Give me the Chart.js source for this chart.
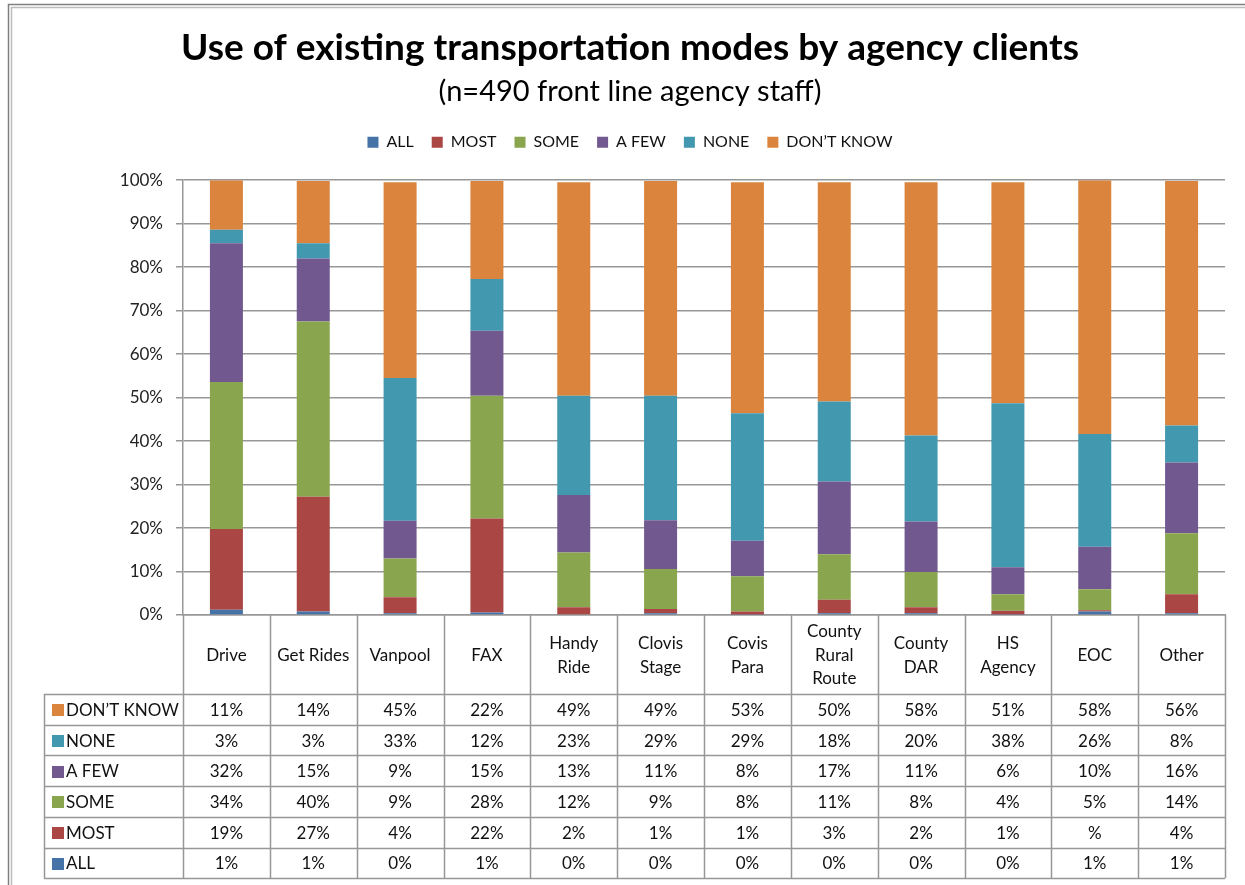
<!DOCTYPE html>
<html>
<head>
<meta charset="utf-8">
<script src="https://cdn.jsdelivr.net/npm/chart.js@4.4.1/dist/chart.umd.min.js"></script>
<style>
  html, body { margin: 0; padding: 0; background: #fff; }
  #wrap { width: 1245px; height: 885px; }
</style>
</head>
<body>
<div id="wrap"><canvas id="graficoModos" width="1245" height="885"></canvas></div>
<script>
// --- DATOS ---
const categories = [
  ["Drive"], ["Get Rides"], ["Vanpool"], ["FAX"], ["Handy", "Ride"], ["Clovis", "Stage"],
  ["Covis", "Para"], ["County", "Rural", "Route"], ["County", "DAR"], ["HS", "Agency"], ["EOC"], ["Other"]
];
const seriesNames = ["ALL", "MOST", "SOME", "A FEW", "NONE", "DON’T KNOW"];

// values (%)
const allValues      = [1.2, 0.8, 0.4, 0.6, 0.2, 0.4, 0.1, 0.4, 0.4, 0.1, 0.8, 0.4];
const mostValues     = [18.6, 26.4, 3.7, 21.6, 1.6, 1.0, 0.7, 3.1, 1.4, 0.9, 0.3, 4.4];
const someValues     = [33.8, 40.3, 8.9, 28.2, 12.6, 9.2, 8.1, 10.5, 8.1, 3.8, 4.8, 14.0];
const aFewValues     = [31.9, 14.5, 8.7, 15.0, 13.2, 11.2, 8.2, 16.7, 11.6, 6.2, 9.8, 16.3];
const noneValues     = [3.1, 3.5, 32.8, 11.9, 22.8, 28.6, 29.3, 18.4, 19.8, 37.7, 25.9, 8.5];
const dontKnowValues = [11.4, 14.3, 45.0, 22.5, 49.1, 49.4, 53.1, 50.4, 58.2, 50.8, 58.4, 56.2];

// texts printed in the data table
const allText      = ["1%", "1%", "0%", "1%", "0%", "0%", "0%", "0%", "0%", "0%", "1%", "1%"];
const mostText     = ["19%", "27%", "4%", "22%", "2%", "1%", "1%", "3%", "2%", "1%", "%", "4%"];
const someText     = ["34%", "40%", "9%", "28%", "12%", "9%", "8%", "11%", "8%", "4%", "5%", "14%"];
const aFewText     = ["32%", "15%", "9%", "15%", "13%", "11%", "8%", "17%", "11%", "6%", "10%", "16%"];
const noneText     = ["3%", "3%", "33%", "12%", "23%", "29%", "29%", "18%", "20%", "38%", "26%", "8%"];
const dontKnowText = ["11%", "14%", "45%", "22%", "49%", "49%", "53%", "50%", "58%", "51%", "58%", "56%"];

const yTicks = [0, 10, 20, 30, 40, 50, 60, 70, 80, 90, 100];

// --- ESTILO ---
const colores = ["#4572A7", "#AA4643", "#89A54E", "#71588F", "#4198AF", "#DB843D"];
const fuente = "Lato, 'Liberation Sans', sans-serif";
const colorLinea = "#979797";
const colorTexto = "#111";

Chart.defaults.font.family = fuente;
Chart.defaults.color = colorTexto;

const valores = [allValues, mostValues, someValues, aFewValues, noneValues, dontKnowValues];
const textos = [allText, mostText, someText, aFewText, noneText, dontKnowText];

const datasets = seriesNames.map((nombre, i) => ({
  label: nombre,
  data: valores[i],
  backgroundColor: colores[i],
  borderWidth: 0,
  barPercentage: 0.38,
  categoryPercentage: 1,
}));

// marco doble alrededor del gráfico
const marcoPlugin = {
  id: "marco",
  beforeDraw(chart) {
    const ctx = chart.ctx;
    ctx.save();
    ctx.fillStyle = "#fff";
    ctx.fillRect(0, 0, chart.width, chart.height);
    ctx.lineWidth = 1.5;
    ctx.strokeStyle = "#7f7f7f";
    ctx.strokeRect(8.5, 4.5, chart.width + 20, chart.height + 20);
    ctx.strokeStyle = "#bdbdbd";
    ctx.strokeRect(11.5, 7.5, chart.width + 20, chart.height + 20);
    ctx.restore();
  },
};

// espacio extra bajo la leyenda
const leyendaPlugin = {
  id: "leyendaEspacio",
  afterInit(chart) {
    const fit = chart.legend.fit;
    chart.legend.fit = function () {
      fit.call(this);
      this.height += 20;
    };
  },
};

// tabla de datos bajo el eje x
const tablaPlugin = {
  id: "tabla",
  afterDraw(chart) {
    const { ctx, chartArea } = chart;
    const x = chart.scales.x;
    const n = categories.length;
    const colW = (chartArea.right - chartArea.left) / n;
    const top = chartArea.bottom;
    const headerBottom = top + 79;
    const rowH = 30.7;
    const labelLeft = 44;
    const tableBottom = headerBottom + rowH * seriesNames.length;

    ctx.save();
    ctx.strokeStyle = colorLinea;
    ctx.lineWidth = 1.5;

    // lineas verticales
    for (let i = 0; i <= n; i++) {
      const xp = Math.round(chartArea.left + i * colW) + 0.5;
      ctx.beginPath();
      ctx.moveTo(xp, top);
      ctx.lineTo(xp, tableBottom);
      ctx.stroke();
    }
    ctx.beginPath();
    ctx.moveTo(labelLeft + 0.5, headerBottom);
    ctx.lineTo(labelLeft + 0.5, tableBottom);
    ctx.stroke();

    // lineas horizontales
    for (let r = 0; r <= seriesNames.length; r++) {
      const yp = Math.round(headerBottom + r * rowH) + 0.5;
      ctx.beginPath();
      ctx.moveTo(labelLeft, yp);
      ctx.lineTo(chartArea.right, yp);
      ctx.stroke();
    }

    ctx.fillStyle = colorTexto;
    ctx.font = "17px " + fuente;
    ctx.textAlign = "center";
    ctx.textBaseline = "middle";

    // cabecera con las categorias
    const lineH = 23.5;
    categories.forEach((lineas, i) => {
      const cx = x.getPixelForValue(i);
      const cy = (top + headerBottom) / 2 + 1;
      lineas.forEach((t, k) => {
        ctx.fillText(t, cx, cy + (k - (lineas.length - 1) / 2) * lineH);
      });
    });

    // filas: de DON'T KNOW a ALL
    for (let r = 0; r < seriesNames.length; r++) {
      const s = seriesNames.length - 1 - r;
      const cy = headerBottom + r * rowH + rowH / 2 + 1;
      ctx.fillStyle = colores[s];
      ctx.fillRect(52, Math.round(cy - 6), 12, 12);
      ctx.fillStyle = colorTexto;
      ctx.textAlign = "left";
      ctx.fillText(seriesNames[s], 66, cy);
      ctx.textAlign = "center";
      textos[s].forEach((t, i) => {
        ctx.fillText(t, x.getPixelForValue(i), cy);
      });
    }
    ctx.restore();
  },
};

const ctx = document.getElementById("graficoModos").getContext("2d");
const graficoModos = new Chart(ctx, {
  type: "bar",
  data: {
    labels: categories,
    datasets: datasets,
  },
  options: {
    responsive: false,
    animation: false,
    layout: { padding: { left: 35, right: 20, top: 0, bottom: 0 } },
    plugins: {
      title: {
        display: true,
        text: "Use of existing transportation modes by agency clients",
        font: { size: 37, weight: "bold" },
        color: "#000",
        padding: { top: 26, bottom: 0 },
      },
      subtitle: {
        display: true,
        text: "(n=490 front line agency staff)",
        font: { size: 29, weight: "normal" },
        color: "#000",
        padding: { top: 4, bottom: 7 },
      },
      legend: {
        display: true,
        position: "top",
        labels: {
          boxWidth: 11,
          boxHeight: 11,
          padding: 18,
          font: { size: 16 },
          color: colorTexto,
        },
      },
      tooltip: { enabled: false },
    },
    scales: {
      x: {
        stacked: true,
        grid: { display: false },
        border: { display: true, color: colorLinea, width: 1.5 },
        ticks: { display: false },
        afterFit: (scale) => { scale.height = 270; },
      },
      y: {
        stacked: true,
        min: 0,
        max: 100,
        afterBuildTicks: (scale) => { scale.ticks = yTicks.map((v) => ({ value: v })); },
        ticks: {
          padding: 13,
          font: { size: 17 },
          color: "#222",
          callback: (v) => v + "%",
        },
        grid: { color: colorLinea, lineWidth: 1.5, tickLength: 7 },
        border: { display: true, color: colorLinea, width: 1.5 },
        afterFit: (scale) => { scale.width = 148; },
      },
    },
  },
  plugins: [marcoPlugin, leyendaPlugin, tablaPlugin],
});
</script>
</body>
</html>
